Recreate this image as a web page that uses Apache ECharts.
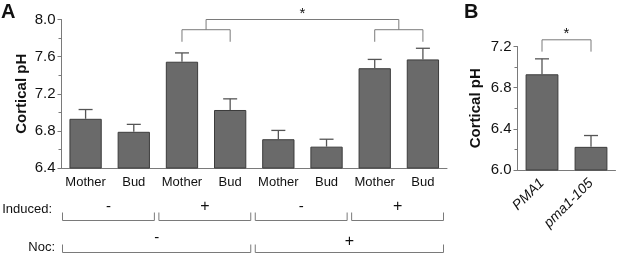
<!DOCTYPE html>
<html>
<head>
<meta charset="utf-8">
<script src="https://cdn.jsdelivr.net/npm/echarts@6/dist/echarts.min.js"></script>
<style>
html, body { margin: 0; padding: 0; background: #fff; }
#chart { width: 617px; height: 255px; }
</style>
</head>
<body>
<div id="chart"></div>
<script>
// panel A
const categoriesA = ['Mother', 'Bud', 'Mother', 'Bud', 'Mother', 'Bud', 'Mother', 'Bud']
const valuesA = [6.93, 6.79, 7.545, 7.025, 6.71, 6.63, 7.475, 7.57]
const errorsA = [0.10, 0.08, 0.095, 0.12, 0.095, 0.08, 0.095, 0.12]
const rangeA = [6.4, 8.0]
// panel B
const categoriesB = ['PMA1', 'pma1-105']
const valuesB = [6.93, 6.225]
const errorsB = [0.15, 0.11]
const rangeB = [6.0, 7.2]
const tickStep = 0.4
// condition rows under panel A
const inducedSigns = ['-', '+', '-', '+']
const nocSigns = ['-', '+']

const FONT = "'Liberation Sans', Arial, Helvetica, sans-serif"
const GRAY = '#7a7a7a'
const TXT = '#111'

const chart = echarts.init(document.getElementById('chart'))

function valueAxis(grid, range) {
  return {
    type: 'value', gridIndex: grid,
    min: range[0], max: range[1], interval: tickStep,
    name: 'Cortical pH', nameLocation: 'middle', nameGap: grid === 0 ? 32 : 34,
    nameMoveOverlap: false,
    nameTextStyle: { fontFamily: FONT, fontWeight: 'bold', fontSize: 15, color: TXT },
    axisLine: { show: true, lineStyle: { color: GRAY, width: 1 } },
    axisTick: { show: true, length: 4, lineStyle: { color: GRAY } },
    minorTick: { show: true, splitNumber: 2, length: 3, lineStyle: { color: GRAY } },
    splitLine: { show: false },
    axisLabel: { fontFamily: FONT, fontSize: 15, color: TXT, margin: 6, formatter: v => v.toFixed(1) }
  }
}

function errorSeries(xi, values, errors) {
  return {
    type: 'custom', xAxisIndex: xi, yAxisIndex: xi, z: 3,
    data: values.map((v, i) => [i, v, errors[i]]),
    encode: { x: 0, y: 1 },
    renderItem: (params, api) => {
      const base = api.coord([api.value(0), api.value(1)])
      const top = api.coord([api.value(0), api.value(1) + api.value(2)])
      const style = { stroke: '#555', lineWidth: 1.3 }
      return {
        type: 'group',
        children: [
          { type: 'line', shape: { x1: base[0], y1: base[1], x2: top[0], y2: top[1] }, style },
          { type: 'line', shape: { x1: top[0] - 7, y1: top[1], x2: top[0] + 7, y2: top[1] }, style }
        ]
      }
    }
  }
}

const barStyle = { color: '#6a6a6a', borderColor: '#3c3c3c', borderWidth: 1 }

chart.setOption({
  animation: false,
  grid: [
    { left: 61.5, right: 170, top: 19.5, bottom: 87 },
    { left: 517.5, right: 1.5, top: 46.5, bottom: 85 }
  ],
  xAxis: [
    {
      type: 'category', gridIndex: 0, data: categoriesA,
      axisLine: { lineStyle: { color: GRAY } }, axisTick: { show: false },
      axisLabel: { interval: 0, fontFamily: FONT, fontSize: 13, color: TXT, margin: 8 }
    },
    {
      type: 'category', gridIndex: 1, data: categoriesB,
      axisLine: { lineStyle: { color: GRAY } }, axisTick: { show: false },
      axisLabel: { interval: 0, fontFamily: FONT, fontSize: 14, fontStyle: 'italic', color: TXT, rotate: 45, margin: 11 }
    }
  ],
  yAxis: [valueAxis(0, rangeA), valueAxis(1, rangeB)],
  series: [
    { type: 'bar', xAxisIndex: 0, yAxisIndex: 0, data: valuesA, barWidth: '67%', itemStyle: barStyle },
    { type: 'bar', xAxisIndex: 1, yAxisIndex: 1, data: valuesB, barWidth: '67%', itemStyle: barStyle },
    errorSeries(0, valuesA, errorsA),
    errorSeries(1, valuesB, errorsB)
  ]
})

// annotations: placed from the axes' own scales
const pxA = (c, v) => chart.convertToPixel({ gridIndex: 0 }, [c, v])
const pxB = (c, v) => chart.convertToPixel({ gridIndex: 1 }, [c, v])
const lineStyle = { stroke: GRAY, lineWidth: 1, fill: null }
const g = []
const poly = pts => g.push({ type: 'polyline', shape: { points: pts }, style: lineStyle, silent: true })
const txt = (text, x, y, opts) => g.push({
  type: 'text', silent: true,
  style: Object.assign({ text, x, y, fill: TXT, fontFamily: FONT, fontSize: 13, align: 'center', verticalAlign: 'middle' }, opts || {})
})

// significance brackets, panel A
const c3 = pxA(2, 0)[0], c4 = pxA(3, 0)[0], c7 = pxA(6, 0)[0], c8 = pxA(7, 0)[0]
const yLeg = pxA(0, 7.76)[1], yMid = pxA(0, 7.89)[1], yTop = pxA(0, 8.0)[1]
poly([[c3, yLeg], [c3, yMid], [c4, yMid], [c4, yLeg]])
poly([[c7, yLeg], [c7, yMid], [c8, yMid], [c8, yLeg]])
const m1 = (c3 + c4) / 2, m2 = (c7 + c8) / 2
poly([[m1, yMid], [m1, yTop], [m2, yTop], [m2, yMid]])
txt('*', (m1 + m2) / 2, yTop - 6, { fontSize: 15 })

// significance bracket, panel B
const b1 = pxB(0, 0)[0], b2 = pxB(1, 0)[0]
const yLegB = pxB(0, 7.15)[1], yTopB = pxB(0, 7.265)[1]
poly([[b1, yLegB], [b1, yTopB], [b2, yTopB], [b2, yLegB]])
txt('*', (b1 + b2) / 2, yTopB - 6, { fontSize: 15 })

// condition rows
const bw = pxA(1, 0)[0] - pxA(0, 0)[0]
const edge = k => pxA(0, 0)[0] - bw / 2 + k * bw
const rowBracket = (k0, k1, yLine) => {
  const xa = edge(k0) + 1, xb = edge(k1) - 3.5
  poly([[xa, yLine - 8], [xa, yLine], [xb, yLine], [xb, yLine - 8]])
  return (xa + xb) / 2
}
const yInd = 220.5, yNoc = 252.5
inducedSigns.forEach((s, i) => {
  const mid = rowBracket(i * 2, i * 2 + 2, yInd)
  txt(s, mid, yInd - 14, { fontSize: s === '+' ? 16 : 15 })
})
nocSigns.forEach((s, i) => {
  const mid = rowBracket(i * 4, i * 4 + 4, yNoc)
  txt(s, mid, s === '+' ? yNoc - 11 : yNoc - 15, { fontSize: s === '+' ? 16 : 15 })
})
txt('Induced:', 52, 209, { align: 'right' })
txt('Noc:', 55, 247, { align: 'right' })

// panel letters
txt('A', 1, 12, { align: 'left', fontSize: 20, fontWeight: 'bold' })
txt('B', 464, 12, { align: 'left', fontSize: 20, fontWeight: 'bold' })

chart.setOption({ graphic: g })
</script>
</body>
</html>
